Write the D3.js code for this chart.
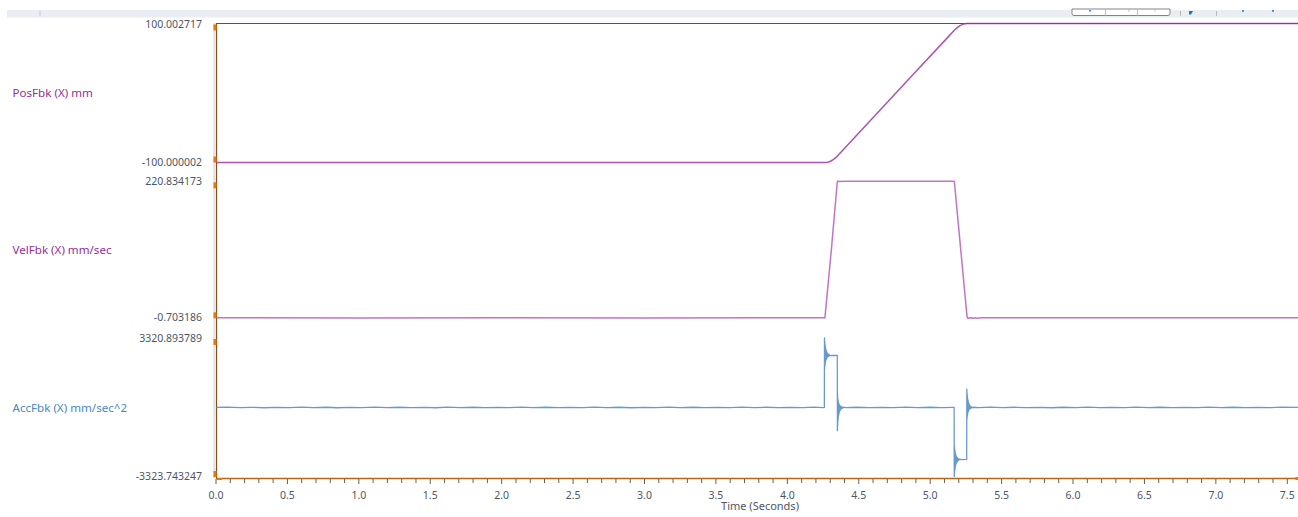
<!DOCTYPE html>
<html><head><meta charset="utf-8">
<script src="https://cdn.jsdelivr.net/npm/d3@7"></script>
<style>
html,body{margin:0;padding:0;background:#fff;}
svg{display:block;font-family:"Noto Sans","Open Sans",sans-serif;}
</style></head>
<body><svg id="c" width="1298" height="517"></svg>
<script>
// ---- data (time in seconds) ----
const seriesNames = ["PosFbk (X) mm", "VelFbk (X) mm/sec", "AccFbk (X) mm/sec^2"];
const posDomain = [-100.000002, 100.002717];
const velDomain = [-0.703186, 220.834173];
const accDomain = [-3323.743247, 3320.893789];
const xTickLabels = ["0.0","0.5","1.0","1.5","2.0","2.5","3.0","3.5","4.0","4.5","5.0","5.5","6.0","6.5","7.0","7.5"];
const timeDomain = [0, 7.575];

const posFbk = [[0,-100],[4.263,-100],[4.278,-99.7],[4.288,-99.2],[4.298,-98.5],[4.308,-97.5],[4.318,-96.3],[4.328,-94.8],
 [4.341,-92.6],[4.352,-90.2],[4.5,-57.5],[4.7,-13.3],[4.9,30.9],[5.1,75.0],[5.169,90.2],[5.189,94.0],[5.209,96.9],
 [5.229,98.8],[5.244,99.6],[5.26,100.0],[7.575,100.0]];

const velFbk = [[0,0],[1.0,-0.05],[2.0,0.03],[3.0,-0.04],[4.263,0],[4.308,110],[4.349,218],[4.352,221.5],[4.358,220.6],
 [4.41,220.83],[5.169,220.83],[5.214,110],[5.258,2],[5.264,-0.7],[5.278,-0.2],[5.288,0.1],[5.298,-0.7],[5.308,-0.1],
 [5.318,0],[5.328,-0.7],[5.343,-0.1],[5.37,0],[6.5,0.02],[7.575,0]];

const accFbk = [[0,0],[0.08,12],[0.17,-10],[0.25,8],[0.34,-14],[0.42,6],[0.51,-12],[0.6,14],[0.68,-6],[0.77,10],
 [0.85,-14],[0.94,8],[1.02,-10],[1.11,12],[1.2,-8],[1.28,10],[1.37,-12],[1.45,6],[1.54,-14],[1.62,12],[1.71,-8],
 [1.8,10],[1.88,-10],[1.97,8],[2.05,-12],[2.14,14],[2.22,-6],[2.31,10],[2.4,-12],[2.48,8],[2.57,-10],[2.65,12],
 [2.74,-8],[2.82,10],[2.91,-14],[3.0,8],[3.08,-10],[3.17,12],[3.25,-8],[3.34,10],[3.42,-12],[3.51,6],[3.6,-10],
 [3.68,14],[3.77,-8],[3.85,10],[3.94,-12],[4.02,8],[4.11,-10],[4.19,12],[4.25,-8],[4.259,0],
 [4.2600,3320],[4.2610,1850],[4.2620,3150],[4.2630,1980],[4.2640,3020],[4.2650,2080],[4.2660,2920],[4.2670,2160],
 [4.2680,2840],[4.2690,2230],[4.2700,2770],[4.2712,2280],[4.2724,2720],[4.2736,2320],[4.2750,2670],[4.2765,2360],
 [4.2780,2620],[4.2800,2400],[4.2820,2580],[4.2845,2430],[4.2870,2550],[4.2900,2450],[4.2940,2520],[4.30,2475],
 [4.32,2495],[4.3495,2485],[4.3505,-1115],[4.3515,620],[4.3525,-860],[4.3535,450],[4.3545,-640],[4.3555,340],
 [4.3565,-500],[4.3577,260],[4.3589,-390],[4.3601,200],[4.3615,-300],[4.3630,150],[4.3645,-220],[4.3662,110],
 [4.3680,-160],[4.3700,80],[4.3725,-110],[4.3750,55],[4.3780,-70],[4.3820,35],[4.387,-35],[4.395,15],[4.41,-10],
 [4.49,10],[4.57,-12],[4.66,8],[4.74,-10],[4.83,12],[4.91,-8],[5.0,10],[5.08,-12],[5.16,8],[5.1675,0],
 [5.1685,-3300],[5.1695,-1820],[5.1705,-3130],[5.1715,-1960],[5.1725,-3000],[5.1735,-2070],[5.1745,-2900],
 [5.1755,-2150],[5.1765,-2820],[5.1777,-2220],[5.1789,-2750],[5.1801,-2280],[5.1815,-2690],[5.1830,-2330],
 [5.1845,-2640],[5.1862,-2370],[5.1880,-2600],[5.1900,-2410],[5.1925,-2560],[5.195,-2440],[5.199,-2530],
 [5.204,-2470],[5.22,-2495],[5.2555,-2485],[5.2565,880],[5.2575,-560],[5.2585,680],[5.2595,-430],[5.2605,540],
 [5.2615,-330],[5.2627,430],[5.2639,-250],[5.2651,340],[5.2665,-190],[5.2680,260],[5.2695,-140],[5.2712,190],
 [5.2730,-100],[5.2750,130],[5.2775,-70],[5.2800,80],[5.2830,-40],[5.287,40],[5.293,-20],[5.30,10],[5.34,-10],
 [5.42,12],[5.51,-8],[5.59,10],[5.68,-12],[5.76,8],[5.85,-14],[5.93,10],[6.02,-8],[6.1,12],[6.19,-10],[6.27,6],
 [6.36,-12],[6.44,14],[6.53,-8],[6.61,10],[6.7,-12],[6.78,8],[6.87,-10],[6.95,12],[7.04,-6],[7.12,10],[7.21,-12],
 [7.29,8],[7.38,-10],[7.46,12],[7.575,0]];

// ---- layout ----
const svg = d3.select("#c");
const L = 216, R = 1298, T = 23, B = 478;
const x = d3.scaleLinear().domain(timeDomain).range([L, R]);
const yPos = d3.scaleLinear().domain(posDomain).range([162.5, 23.5]);
const yVel = d3.scaleLinear().domain(velDomain).range([318.3, 181.3]);
const yAcc = d3.scaleLinear().domain(accDomain).range([477, 338]);

// toolbar strip
svg.append("rect").attr("x",7).attr("y",10).attr("width",1291).attr("height",7.5).attr("fill","#eaedf1");
svg.append("rect").attr("x",39.5).attr("y",11).attr("width",1).attr("height",5.5).attr("fill","#c9cdd3");
svg.append("path").attr("d","M1072,9 V13.5 Q1072,15.5 1074,15.5 H1168 Q1170,15.5 1170,13.5 V9 Z")
  .attr("fill","#fff").attr("stroke","#80858c").attr("stroke-width",1);
[1105.5,1137.5].forEach(v=>svg.append("line").attr("x1",v).attr("x2",v).attr("y1",9).attr("y2",15.5).attr("stroke","#b8bcc2"));
[[1089,"#3b8fd6"],[1128,"#c8d4e0"],[1154,"#d8dfe8"]].forEach(d=>svg.append("rect").attr("x",d[0]).attr("y",10).attr("width",2).attr("height",1.5).attr("fill",d[1]));
[1180.5,1216.5].forEach(v=>svg.append("line").attr("x1",v).attr("x2",v).attr("y1",11).attr("y2",16).attr("stroke","#b5b9bf"));
svg.append("path").attr("d","M1189,11 H1193 L1191,14.5 H1189 Z").attr("fill","#1a78c8");
[1242,1272].forEach(v=>svg.append("rect").attr("x",v).attr("y",10).attr("width",2).attr("height",1.8).attr("fill","#3a8ad0"));

// left gray strip
svg.append("rect").attr("x",213.3).attr("y",T).attr("width",1.8).attr("height",B-T).attr("fill","#dde1e7");

// clip
svg.append("defs").append("clipPath").attr("id","clip").append("rect")
  .attr("x",L).attr("y",T-2).attr("width",R-L).attr("height",B-T+3);

// frame lines
svg.append("line").attr("x1",L).attr("x2",R).attr("y1",T+0.5).attr("y2",T+0.5).attr("stroke","#7a4a20").attr("stroke-width",1);
svg.append("line").attr("x1",L+0.5).attr("x2",L+0.5).attr("y1",T).attr("y2",B).attr("stroke","#8a4e14").attr("stroke-width",1.2);

// series lines
const g = svg.append("g").attr("clip-path","url(#clip)");
function drawLine(data, y, color, w, op){
  g.append("path").datum(data)
   .attr("d", d3.line().x(d=>x(d[0])).y(d=>y(d[1])))
   .attr("fill","none").attr("stroke",color).attr("stroke-width",w).attr("stroke-opacity",op)
   .attr("stroke-linejoin","round");
}
drawLine(posFbk, yPos, "#9e35a1", 1.5, 0.85);
drawLine(velFbk, yVel, "#b052b3", 1.5, 0.8);
drawLine(accFbk, yAcc, "#4f88bf", 1.3, 0.85);

// bottom axis
const xAxisG = svg.append("g").attr("transform",`translate(0,${B})`);
xAxisG.append("line").attr("x1",L).attr("x2",R).attr("y1",0.5).attr("y2",0.5).attr("stroke","#b8661a").attr("stroke-width",1.3);
const minor = d3.range(0, 76).map(i=>i/10);
xAxisG.selectAll("line.mt").data(minor).enter().append("line")
  .attr("x1",d=>x(d)).attr("x2",d=>x(d)).attr("y1",1).attr("y2",d=> (Math.round(d*10)%5===0)?6:5)
  .attr("stroke","#5a5f66").attr("stroke-width",1);
xAxisG.selectAll("text").data(xTickLabels).enter().append("text")
  .attr("x",d=>x(+d)).attr("y",21).attr("text-anchor","middle")
  .attr("font-size",10.5).attr("fill","#4e5663").text(d=>d);
svg.append("text").attr("x",760).attr("y",510).attr("text-anchor","middle")
  .attr("font-size",11).attr("fill","#4e5663").text("Time (Seconds)");

// y labels
const yLabels = [
  [yPos, posDomain[1], "100.002717", 1],[yPos, posDomain[0], "-100.000002", -1],
  [yVel, velDomain[1], "220.834173", 1],[yVel, velDomain[0], "-0.703186", -1],
  [yAcc, accDomain[1], "3320.893789", 1],[yAcc, accDomain[0], "-3323.743247", -1]];
yLabels.forEach(([s,v,t,dir])=>{
  const yy = s(v);
  svg.append("text").attr("x",202).attr("y",yy+ (dir>0?4:3)).attr("text-anchor","end")
    .attr("font-size",10.5).attr("fill","#4e5663").text(t);
  svg.append("rect").attr("x",213.5).attr("y", dir>0? yy+1 : yy-6).attr("width",3).attr("height",6).attr("fill","#e07c0c");
});
svg.append("rect").attr("x",217).attr("y",478).attr("width",5).attr("height",2).attr("fill","#e07c0c");
svg.append("rect").attr("x",1295.5).attr("y",477).attr("width",2.5).attr("height",3).attr("fill","#e07c0c");

// series names
const nameColors = ["#952f97","#952f97","#4b86bf"];
const nameY = [97, 254, 412];
seriesNames.forEach((n,i)=>svg.append("text").attr("x",12.5).attr("y",nameY[i])
  .attr("font-size",11.6).attr("fill",nameColors[i]).text(n));
</script></body></html>
